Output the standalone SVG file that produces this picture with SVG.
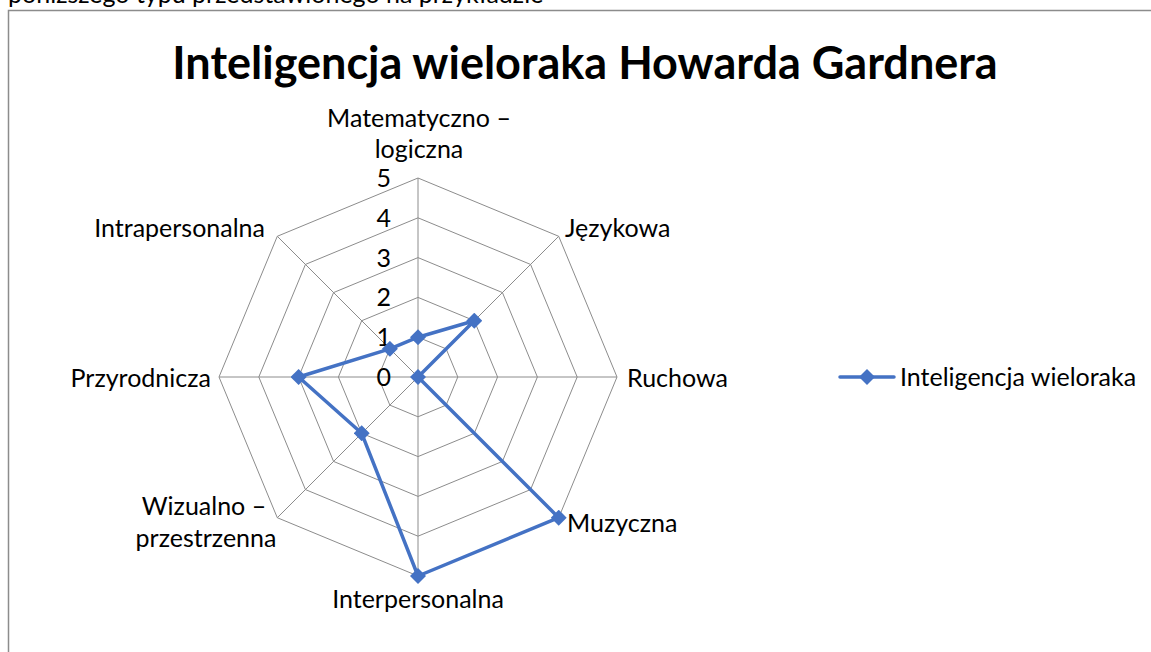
<svg xmlns="http://www.w3.org/2000/svg" width="1151" height="652" viewBox="0 0 1151 652">
<defs>
<style>
.t{font-family:Lato,"Liberation Sans",sans-serif;fill:#000;font-size:25px}
.ttl{font-family:Lato,"Liberation Sans",sans-serif;font-weight:bold;font-size:45px;fill:#000}
.grid{fill:none;stroke:#8c8c8c;stroke-width:1}
.ser{fill:none;stroke:#4472c4;stroke-width:3.5;stroke-linejoin:round}
</style>
<marker id="dia" viewBox="-8 -8 16 16" markerWidth="16" markerHeight="16" markerUnits="userSpaceOnUse" refX="0" refY="0" orient="0">
<polygon points="0,-8 8,0 0,8 -8,0" fill="#4472c4"/>
</marker>
</defs>
<rect width="1151" height="652" fill="#fff"/>
<text class="t" x="8" y="3" font-size="26">poniższego typu przedstawionego na przykładzie</text>
<path d="M8.5,652 V10.5 H1151" fill="none" stroke="#8c8c8c" stroke-width="1.5"/>
<text class="ttl" x="585" y="79" text-anchor="middle">Inteligencja wieloraka Howarda Gardnera</text>
<g id="grid">
<polygon class="grid" points="418,337.2 446.14,348.86 457.8,377 446.14,405.14 418,416.8 389.86,405.14 378.2,377 389.86,348.86"/>
<polygon class="grid" points="418,297.4 474.29,320.71 497.6,377 474.29,433.29 418,456.6 361.71,433.29 338.4,377 361.71,320.71"/>
<polygon class="grid" points="418,257.6 502.43,292.57 537.4,377 502.43,461.43 418,496.4 333.57,461.43 298.6,377 333.57,292.57"/>
<polygon class="grid" points="418,217.8 530.57,264.43 577.2,377 530.57,489.57 418,536.2 305.43,489.57 258.8,377 305.43,264.43"/>
<polygon class="grid" points="418,178 558.71,236.29 617,377 558.71,517.71 418,576 277.29,517.71 219,377 277.29,236.29"/>
<path class="grid" d="M418,377 L418,178 M418,377 L558.71,236.29 M418,377 L617,377 M418,377 L558.71,517.71 M418,377 L418,576 M418,377 L277.29,517.71 M418,377 L219,377 M418,377 L277.29,236.29"/>
</g>
<g id="scale">
<text class="t" x="391" y="386" text-anchor="end">0</text>
<text class="t" x="391" y="346.2" text-anchor="end">1</text>
<text class="t" x="391" y="306.4" text-anchor="end">2</text>
<text class="t" x="391" y="266.6" text-anchor="end">3</text>
<text class="t" x="391" y="226.8" text-anchor="end">4</text>
<text class="t" x="391" y="187" text-anchor="end">5</text>
</g>
<g id="n-matematyczno"><text class="t" x="419" y="127" text-anchor="middle">Matematyczno –</text><text class="t" x="419" y="158" text-anchor="middle">logiczna</text></g>
<g id="n-jezykowa"><text class="t" x="565" y="237">Językowa</text></g>
<g id="n-ruchowa"><text class="t" x="627" y="387">Ruchowa</text></g>
<g id="n-muzyczna"><text class="t" x="567" y="532">Muzyczna</text></g>
<g id="n-interpersonalna"><text class="t" x="418" y="608" text-anchor="middle">Interpersonalna</text></g>
<g id="n-wizualno"><text class="t" x="204" y="515" text-anchor="middle">Wizualno –</text><text class="t" x="206" y="547" text-anchor="middle">przestrzenna</text></g>
<g id="n-przyrodnicza"><text class="t" x="211" y="387" text-anchor="end">Przyrodnicza</text></g>
<g id="n-intrapersonalna"><text class="t" x="265" y="237" text-anchor="end">Intrapersonalna</text></g>
<g id="connectors">
<polygon class="ser" points="418,337.2 474.29,320.71 418,377 558.71,517.71 418,576 361.71,433.29 298.6,377 389.86,348.86" marker-start="url(#dia)" marker-mid="url(#dia)"/>
</g>
<g id="legend">
<line x1="840" y1="377" x2="894" y2="377" stroke="#4472c4" stroke-width="3.5" stroke-linecap="round"/>
<polygon points="867,369 875,377 867,385 859,377" fill="#4472c4"/>
<text class="t" x="900" y="386">Inteligencja wieloraka</text>
</g>
</svg>
